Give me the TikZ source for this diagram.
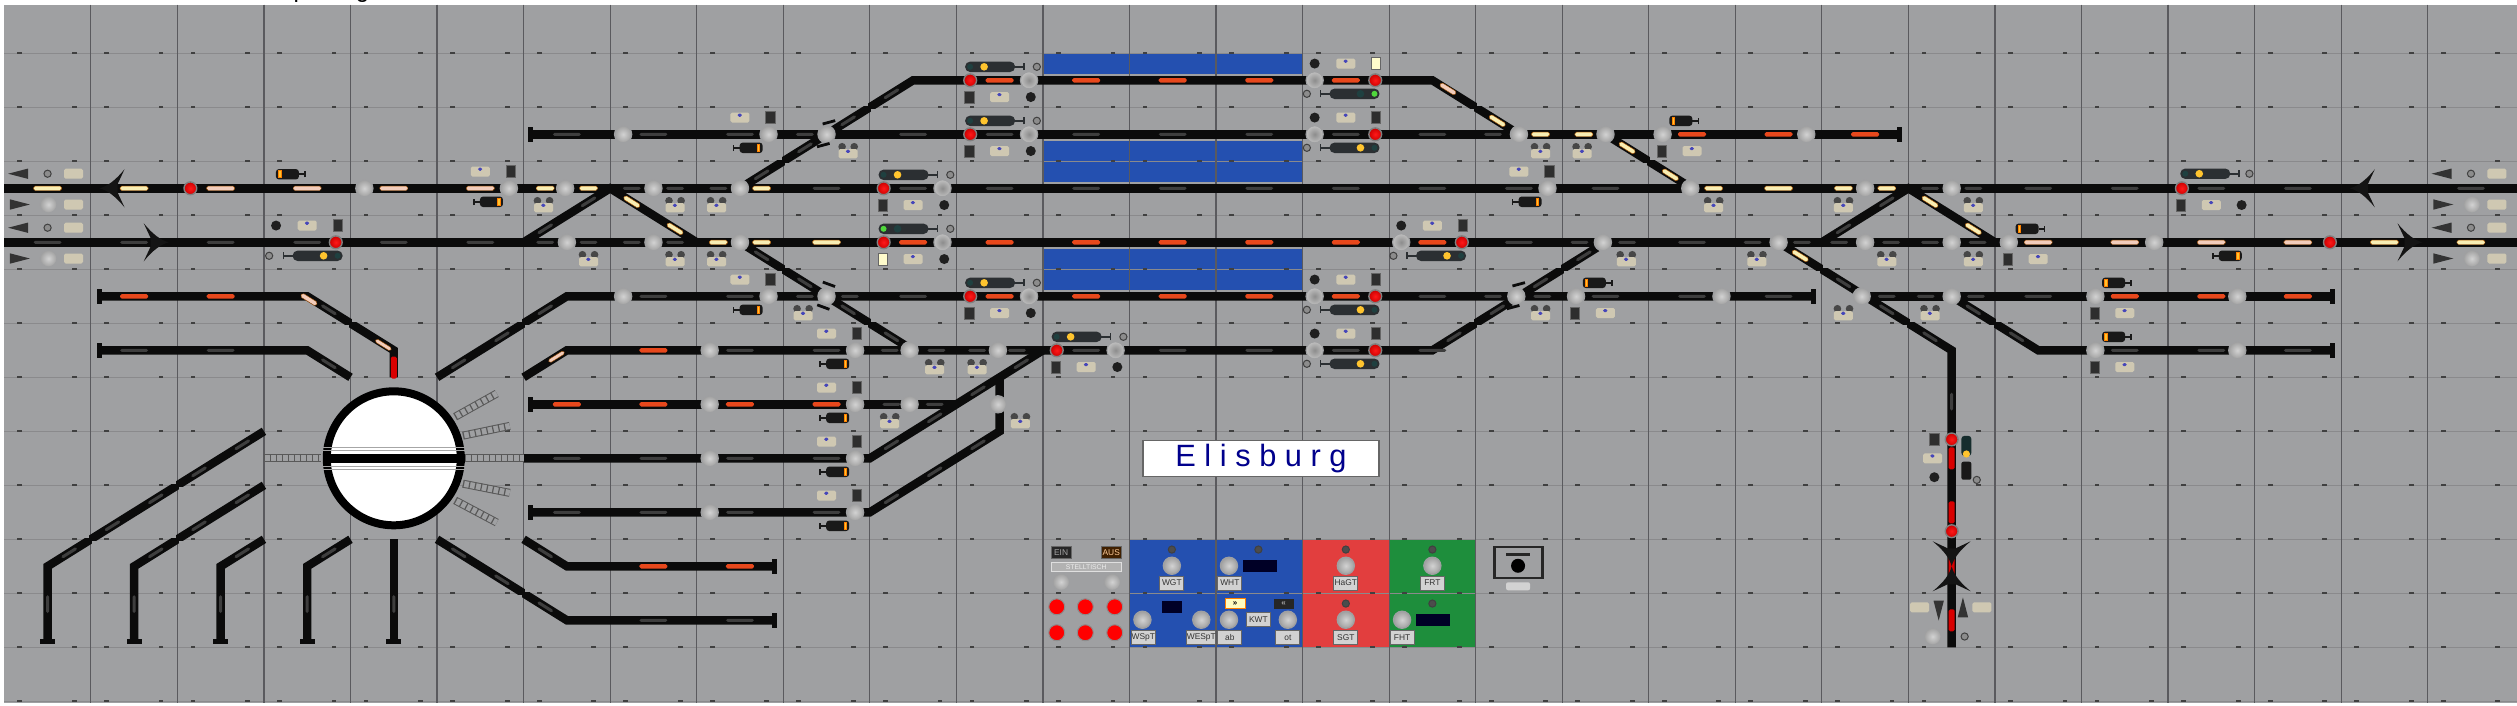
\documentclass[tikz,border=0pt]{standalone}
\usepackage{fontspec}
\setmainfont{Liberation Sans}
\usetikzlibrary{arrows,positioning}

\definecolor{tafel}{HTML}{9FA0A2}
\definecolor{fuge}{HTML}{8A8A8C}
\definecolor{spalte}{HTML}{5A5A5E}
\definecolor{gleisfarbe}{HTML}{0B0B0B}
\definecolor{blaufeld}{HTML}{2450B0}
\definecolor{rotfeld}{HTML}{E23E3E}
\definecolor{gruenfeld}{HTML}{1E8E3C}
\definecolor{rotlicht}{HTML}{E8481C}
\definecolor{gelblicht}{HTML}{F8EEB4}
\definecolor{rosalicht}{HTML}{F2CDBC}
\definecolor{graulicht}{HTML}{3E3E3E}
\definecolor{kopfbody}{HTML}{2B2F32}
\definecolor{kaus}{HTML}{1F4040}
\definecolor{kgelb}{HTML}{FFC42E}
\definecolor{kgruen}{HTML}{4FD83C}
\definecolor{schildfarbe}{HTML}{CFC8B2}

\tikzset{
  gleis/.style={draw=gleisfarbe,line width=4.2pt,line join=miter},
  lamp/.style={rectangle,rounded corners=.8pt,inner sep=0,minimum width=14pt,minimum height=2.2pt},
  kurz/.style={minimum width=9pt},
  lrot/.style={lamp,fill=rotlicht},
  lgelb/.style={lamp,fill=gelblicht,draw=orange!70!black,line width=.2pt},
  lrosa/.style={lamp,fill=rosalicht,draw=orange!60!black,line width=.2pt},
  lgrau/.style={lamp,fill=graulicht,minimum height=1.5pt},
  lvert/.style={lamp,fill=red!85!black,minimum width=3pt,minimum height=11pt},
  taste/.style={circle,inner sep=0,minimum size=8.6pt,inner color=gray!35,outer color=gray!75,draw=tafel,line width=.6pt},
  tastedunkel/.style={circle,inner sep=0,minimum size=8.6pt,inner color=gray!90,outer color=gray!50,draw=tafel,line width=.6pt},
  rotl/.style={circle,inner sep=0,minimum size=6.4pt,inner color=red!90!white,outer color=red!80!black,draw=gray,line width=.7pt},
  rotk/.style={circle,inner sep=0,minimum size=8pt,fill=red,draw=gray!90,line width=.5pt},
  ring/.style={circle,inner sep=0,minimum size=3.6pt,fill=gray!90,draw=black!75,line width=.5pt},
  punkt/.style={circle,inner sep=0,minimum size=5pt,fill=black!88},
  wpunkt/.style={circle,inner sep=0,minimum size=3.8pt,fill=black!72},
  viereck/.style={rectangle,inner sep=0,minimum width=4.6pt,minimum height=6pt,fill=black!82,draw=gray!80!black,line width=.3pt},
  viereckan/.style={viereck,fill=yellow!20},
  schild/.style={rectangle,rounded corners=.8pt,inner sep=0,minimum width=9.5pt,minimum height=5pt,fill=schildfarbe,
    path picture={\fill[blue!45!gray] (path picture bounding box.center) ++(-1.2pt,.4pt) rectangle ++(2.2pt,1.6pt);}},
  schildleer/.style={rectangle,rounded corners=.8pt,inner sep=0,minimum width=9.5pt,minimum height=5pt,fill=schildfarbe},
  prell/.style={rectangle,inner sep=0,minimum width=2.4pt,minimum height=7.6pt,fill=gleisfarbe},
  wbar/.style={rectangle,inner sep=0,minimum width=6.5pt,minimum height=1.4pt,fill=gleisfarbe},
  taf/.style={rectangle,inner sep=0,minimum width=12pt,minimum height=7pt,fill=gray!35,draw=gray!80!black,line width=.4pt,
    text=black!80,font=\fontsize{4.2}{5}\selectfont},
  fenster/.style={rectangle,inner sep=0,minimum width=17pt,minimum height=6pt,fill=black!85!blue,text=gray!60,
    font=\fontsize{3}{4}\selectfont},
  leiter/.style={draw=black!65,double=tafel,double distance=3pt,line width=.5pt},
  sprosse/.style={draw=black!65,line width=3.6pt,dash pattern=on .6pt off 2.4pt},
  brueck/.style={draw=gray!70,line width=.5pt}
}

% one row of lamps, buttons ...
\newcommand{\reihe}[4]{\foreach \x [count=\i] in {#4} \node[#1] (#2\i) at (\x,#3) {};}
\newcommand{\liste}[3]{\foreach \x/\y [count=\i] in {#3} \node[#1] (#2\i) at (\x,\y) {};}

\newcommand{\sighead}[4]{
  \begin{scope}[shift={#1},xscale=#2]
    \fill[kopfbody,rounded corners=2.5pt] (-12.5pt,-2.6pt) rectangle (12.5pt,2.6pt);
    \draw[kopfbody,line width=.8pt] (12pt,0) -- (17pt,0) (17pt,-1.8pt) -- (17pt,1.8pt);
    \fill[#3] (-10pt,0) circle (1.5pt);
    \fill[#4] (-3pt,0) circle (1.9pt);
  \end{scope}}
\newcommand{\kurzsig}[2]{
  \begin{scope}[shift={#1},xscale=#2]
    \fill[black!90,rounded corners=1.5pt] (-4.5pt,-2.6pt) rectangle (7pt,2.6pt);
    \draw[black!90,line width=.8pt] (-4.5pt,0) -- (-7.5pt,0) (-7.5pt,-1.6pt) -- (-7.5pt,1.6pt);
    \fill[orange] (4.2pt,-2.1pt) rectangle (5.9pt,2.1pt);
    \fill[kgelb] (4.7pt,-1.6pt) rectangle (5.4pt,1.6pt);
  \end{scope}}
% signal groups beside a track
\newcommand{\gruppeA}[5]{
  \node[rotl] (#3r) at (#1+.16,#2) {};
  \node[tastedunkel] (#3t) at (#1+.84,#2) {};
  \sighead{(#1+.39,#2-.25)}{1}{#4}{#5}
  \node[ring] (#3o) at (#1+.93,#2-.25) {};
  \node[viereck] (#3v) at (#1+.15,#2+.31) {};
  \node[schild] (#3s) at (#1+.5,#2+.31) {};
  \node[punkt] (#3p) at (#1+.86,#2+.31) {};}
\newcommand{\gruppeB}[5]{
  \node[tastedunkel] (#3t) at (#1+.14,#2) {};
  \node[rotl] (#3r) at (#1+.84,#2) {};
  \sighead{(#1+.6,#2+.25)}{-1}{#4}{#5}
  \node[ring] (#3o) at (#1+.05,#2+.25) {};
  \node[punkt] (#3p) at (#1+.14,#2-.31) {};
  \node[schild] (#3s) at (#1+.5,#2-.31) {};
  \node[viereck] (#3v) at (#1+.85,#2-.31) {};}
\newcommand{\gruppeC}[3]{
  \node[taste] (#3t) at (#1+.83,#2) {};
  \node[schild] (#3s) at (#1+.5,#2-.31) {};
  \node[viereck] (#3v) at (#1+.85,#2-.31) {};
  \kurzsig{(#1+.6,#2+.25)}{1}}
\newcommand{\gruppeD}[3]{
  \node[taste] (#3t) at (#1+.16,#2) {};
  \node[viereck] (#3v) at (#1+.15,#2+.31) {};
  \node[schild] (#3s) at (#1+.5,#2+.31) {};
  \kurzsig{(#1+.4,#2-.25)}{-1}}
\newcommand{\wmark}[3]{
  \node[wpunkt] (#3a) at (#1-.07,#2-.07) {};
  \node[wpunkt] (#3b) at (#1+.07,#2-.07) {};
  \node[schild,minimum height=4.6pt] (#3c) at (#1,#2+.06) {};}
\newcommand{\wbars}[3]{
  \node[taste] (#3) at #1 {};
  \path (#3) ++(1.2pt,6pt) node[wbar,rotate=#2] (#3o) {};
  \path (#3) ++(-1.6pt,-5.4pt) node[wbar,rotate=#2] (#3u) {};}
\newcommand{\pfeil}[2]{
  \fill[black!92,shift={#1},rotate=#2] (0,0) .. controls (4pt,-1pt) and (8pt,-4pt) .. (12.5pt,-9.5pt)
    -- (9pt,-2pt) -- (9pt,2pt) -- (12.5pt,9.5pt) .. controls (8pt,4pt) and (4pt,1pt) .. cycle;}
\newcommand{\dreieck}[2]{
  \fill[black!80,shift={#1},rotate=#2] (-5pt,0) -- (5pt,2.6pt) -- (5pt,-2.6pt) -- cycle;}
\newcommand{\randsym}[2]{
  \dreieck{(#1+.16,3.23)}{0}
  \node[ring] (#2a) at (#1+.5,3.23) {};
  \node[schildleer] (#2b) at (#1+.8,3.23) {};
  \dreieck{(#1+.18,3.8)}{180}
  \node[taste] (#2c) at (#1+.51,3.8) {};
  \node[schildleer] (#2d) at (#1+.8,3.8) {};
  \dreieck{(#1+.16,4.23)}{0}
  \node[ring] (#2e) at (#1+.5,4.23) {};
  \node[schildleer] (#2f) at (#1+.8,4.23) {};
  \dreieck{(#1+.18,4.8)}{180}
  \node[taste] (#2g) at (#1+.51,4.8) {};
  \node[schildleer] (#2h) at (#1+.8,4.8) {};}

\begin{document}
\begin{tikzpicture}[x=43.275pt,y=-27pt]
  \useasboundingbox (-0.0497,0.013) rectangle (29.032,13.069);
  \fill[white] (-0.0497,0.013) rectangle (29.032,13.069);
  \fill[tafel] (0,0.1) rectangle (29.032,13.03);

  % cut-off caption above the panel
  \node[anchor=base,inner sep=0,font=\fontsize{12}{14}\selectfont] (capp) at (3.42,-0.03) {p};
  \node[anchor=base,inner sep=0,font=\fontsize{12}{14}\selectfont] (capg) at (4.14,-0.03) {g};

  % platforms and key fields
  \fill[blaufeld] (12,1) rectangle (15,1.38);
  \fill[blaufeld] (12,2.62) rectangle (15,3.38);
  \fill[blaufeld] (12,4.62) rectangle (15,5.38);
  \fill[blaufeld] (13,10) rectangle (15,12);
  \fill[rotfeld] (15,10) rectangle (16,12);
  \fill[gruenfeld] (16,10) rectangle (17,12);

  % panel grid
  \foreach \r in {1,...,13}
    \draw[fuge,line width=.5pt] (0,\r) -- (29.032,\r);
  \foreach \c in {1,...,28}
    \draw[spalte,line width=.6pt] (\c,0.1) -- (\c,13.03);
  \foreach \c in {0,...,28}
    \foreach \r in {1,...,13} {
      \fill[black!75] (\c+.18,\r) ++(-1.2pt,-.5pt) rectangle ++(2.4pt,1.2pt);
      \fill[black!75] (\c+.81,\r) ++(-1.2pt,-.5pt) rectangle ++(2.4pt,1.2pt);
    }

  % track points
  \coordinate (ha) at (0,3.5);      \coordinate (hb) at (29.032,3.5);
  \coordinate (ga) at (0,4.5);      \coordinate (gb) at (29.032,4.5);
  \coordinate (k1) at (8.5,3.5);    \coordinate (k2) at (10.5,1.5);
  \coordinate (k3) at (16.5,1.5);   \coordinate (k4) at (17.5,2.5);
  \coordinate (s1) at (6.08,2.5);   \coordinate (s2) at (21.9,2.5);
  \coordinate (k5) at (18.5,2.5);   \coordinate (k6) at (19.5,3.5);
  \coordinate (d1) at (6,4.5);      \coordinate (d2) at (7,3.5);
  \coordinate (d3) at (8,4.5);      \coordinate (d4) at (21,4.5);
  \coordinate (d5) at (22,3.5);     \coordinate (d6) at (23,4.5);
  \coordinate (k7) at (8.5,4.5);    \coordinate (k8) at (10.5,6.5);
  \coordinate (r1) at (6.5,5.5);    \coordinate (r2) at (5,7);
  \coordinate (r3) at (20.9,5.5);   \coordinate (r4) at (6.5,6.5);
  \coordinate (r5) at (6,7);        \coordinate (k10) at (16.5,6.5);
  \coordinate (k11) at (17.5,5.5);  \coordinate (k12) at (18.5,4.5);
  \coordinate (k13) at (20.5,4.5);  \coordinate (k14) at (21.5,5.5);
  \coordinate (k15) at (22.5,6.5);  \coordinate (v1) at (22.5,12);
  \coordinate (r6) at (26.9,5.5);   \coordinate (k16) at (22.5,5.5);
  \coordinate (k17) at (23.5,6.5);  \coordinate (r7) at (26.9,6.5);
  \coordinate (l1) at (1.1,5.5);    \coordinate (l2) at (3.5,5.5);
  \coordinate (l3) at (4.5,6.5);    \coordinate (l4) at (4.5,7);
  \coordinate (l5) at (1.1,6.5);    \coordinate (l6) at (3.5,6.5);
  \coordinate (l7) at (4,7);
  \coordinate (e1) at (6.08,7.5);   \coordinate (e2) at (11,7.5);
  \coordinate (f1) at (12,6.5);     \coordinate (e3) at (6,8.5);
  \coordinate (e4) at (10,8.5);     \coordinate (e5) at (6.08,9.5);
  \coordinate (e6) at (10,9.5);     \coordinate (u1) at (11.5,7);
  \coordinate (u2) at (11.5,8);
  \coordinate (m1) at (6,10);       \coordinate (m2) at (6.5,10.5);
  \coordinate (m3) at (8.9,10.5);   \coordinate (m4) at (5,10);
  \coordinate (m5) at (6.5,11.5);   \coordinate (m6) at (8.9,11.5);
  \coordinate (y1) at (3,8);        \coordinate (y2) at (0.5,10.5);
  \coordinate (y3) at (0.5,11.89);  \coordinate (y4) at (3,9);
  \coordinate (y5) at (1.5,10.5);   \coordinate (y6) at (1.5,11.89);
  \coordinate (y7) at (3,10);       \coordinate (y8) at (2.5,10.5);
  \coordinate (y9) at (2.5,11.89);  \coordinate (y10) at (4,10);
  \coordinate (y11) at (3.5,10.5);  \coordinate (y12) at (3.5,11.89);
  \coordinate (y13) at (4.5,10);    \coordinate (y14) at (4.5,11.89);

  % tracks
  \draw[gleis] (ha) -- (hb);
  \draw[gleis] (ga) -- (gb);
  \draw[gleis] (k1) -- (k2) -- (k3) -- (k4);
  \draw[gleis] (s1) -- (s2);
  \draw[gleis] (k5) -- (k6);
  \draw[gleis] (d1) -- (d2) -- (d3);
  \draw[gleis] (d4) -- (d5) -- (d6);
  \draw[gleis] (k7) -- (k8);
  \draw[gleis] (r2) -- (r1) -- (r3);
  \draw[gleis] (r5) -- (r4) -- (k10) -- (k12);
  \draw[gleis] (k13) -- (k15) -- (v1);
  \draw[gleis] (k14) -- (r6);
  \draw[gleis] (k16) -- (k17) -- (r7);
  \draw[gleis] (l1) -- (l2) -- (l3) -- (l4);
  \draw[gleis] (l5) -- (l6) -- (l7);
  \draw[gleis] (e1) -- (e2);
  \draw[gleis] (e3) -- (e4) -- (f1);
  \draw[gleis] (e5) -- (e6) -- (u2) -- (u1);
  \draw[gleis] (m1) -- (m2) -- (m3);
  \draw[gleis] (m4) -- (m5) -- (m6);
  \draw[gleis] (y1) -- (y2) -- (y3);
  \draw[gleis] (y4) -- (y5) -- (y6);
  \draw[gleis] (y7) -- (y8) -- (y9);
  \draw[gleis] (y10) -- (y11) -- (y12);
  \draw[gleis] (y13) -- (y14);

  % diagonals pinch where four tiles meet
  \foreach \x/\y in {9/3,10/2,17/6,18/5,6/6,2/9,1/10,2/10} {
    \fill[tafel] (\x,\y) ++(-.7pt,.7pt) rectangle ++(-3pt,3pt);
    \fill[tafel] (\x,\y) ++(.7pt,-.7pt) rectangle ++(3pt,-3pt);
  }
  \foreach \x/\y in {9/5,10/6,19/3,17/2,21/5,22/6,23/6,4/6,6/11} {
    \fill[tafel] (\x,\y) ++(.7pt,.7pt) rectangle ++(3pt,3pt);
    \fill[tafel] (\x,\y) ++(-.7pt,-.7pt) rectangle ++(-3pt,-3pt);
  }

  % buffer stops
  \liste{prell}{bs}{6.08/2.5,21.9/2.5,20.9/5.5,26.9/5.5,26.9/6.5,1.1/5.5,1.1/6.5,6.08/7.5,6.08/9.5,8.9/10.5,8.9/11.5}
  \liste{prell,rotate=90}{bv}{0.5/11.89,1.5/11.89,2.5/11.89,3.5/11.89,4.5/11.89}

  % unlit lamps
  \reihe{lgrau}{a}{2.5}{6.5,7.5,8.5,10.5,11.5,12.5,13.5,14.5,15.5,16.5}
  \reihe{lgrau}{b}{3.5}{9.5,10.5,11.5,12.5,13.5,14.5,15.5,16.5,17.5,18.5,23.5,24.5,25.5,26.5,28.5}
  \reihe{lgrau}{c}{4.5}{0.5,1.5,2.5,3.5,4.5,5.5,17.5,19.5}
  \reihe{lgrau}{d}{5.5}{7.5,8.5,10.5,16.5,18.5,19.5,20.5,23.5}
  \reihe{lgrau}{e}{6.5}{1.5,2.5,8.5,9.5,12.5,13.5,14.5,15.5,16.5,24.5,25.5,26.5}
  \reihe{lgrau}{f}{8.5}{6.5,7.5,8.5,9.5}
  \reihe{lgrau}{g}{9.5}{6.5,7.5,8.5,9.5}
  \reihe{lgrau}{h}{11.5}{7.5,8.5}
  \reihe{lgrau,kurz}{ka}{2.5}{9.25,17.2}
  \reihe{lgrau,kurz}{kb}{3.5}{7.25,7.75,8.25,22.25,22.75}
  \reihe{lgrau,kurz}{kc}{4.5}{6.25,6.75,7.25,7.75,18.2,18.75,20.2,20.77,21.2,21.8,22.25,22.8}
  \reihe{lgrau,kurz}{kd}{5.5}{9.25,9.77,17.2,17.77,21.75,22.2,22.78}
  \reihe{lgrau,kurz}{ke}{6.5}{10.23,10.77,11.24,11.7}
  \reihe{lgrau,kurz}{kf}{7.5}{10.25,10.75}
  \liste{lgrau,kurz,rotate=32}{da}{8.75/3.25,9.25/2.75,9.75/2.25,10.25/1.75,6.25/4.25,6.75/3.75,21.25/4.25,21.75/3.75,16.75/6.25,17.25/5.75,17.75/5.25,18.25/4.75,11.75/6.75,11.25/7.25,10.75/7.75,10.25/8.25,11.25/8.25,10.75/8.75,10.25/9.25,6.25/5.75,5.75/6.25,5.25/6.75,2.75/8.25,2.25/8.75,1.75/9.25,1.25/9.75,0.75/10.25,2.75/9.25,2.25/9.75,1.75/10.25,2.75/10.25,3.75/10.25}
  \liste{lgrau,kurz,rotate=-32}{db}{8.75/4.75,9.25/5.25,9.75/5.75,10.25/6.25,21.25/5.25,21.75/5.75,22.25/6.25,22.75/5.75,23.25/6.25,3.75/6.75,5.25/10.25,5.75/10.75,6.25/11.25,6.25/10.25,3.75/5.75}
  \liste{lgrau,kurz,rotate=90}{dv}{0.5/11.2,1.5/11.2,2.5/11.2,3.5/11.2,4.5/11.2,22.5/7.45}

  % lit lamps
  \reihe{lrot}{ra}{1.5}{11.5,12.5,13.5,14.5,15.5}
  \reihe{lrot}{rb}{2.5}{19.5,20.5,21.5}
  \reihe{lrot}{rc}{4.5}{10.5,11.5,12.5,13.5,14.5,15.5,16.5}
  \reihe{lrot}{rd}{5.5}{1.5,2.5,11.5,12.5,13.5,14.5,15.5,24.5,25.5,26.5}
  \reihe{lrot}{re}{6.5}{7.5}
  \reihe{lrot}{rf}{7.5}{6.5,7.5,8.5,9.5}
  \reihe{lrot}{rg}{10.5}{7.5,8.5}
  \reihe{lgelb}{ya}{3.5}{0.5,1.5,20.5}
  \reihe{lgelb}{yb}{4.5}{9.5,27.5,28.5}
  \reihe{lgelb,kurz}{yc}{3.5}{6.25,6.75,8.75,19.75,21.25,21.75}
  \reihe{lgelb,kurz}{yd}{4.5}{8.25,8.75}
  \reihe{lgelb,kurz}{ye}{2.5}{17.75,18.25}
  \liste{lgelb,kurz,rotate=-32}{yf}{7.25/3.75,7.75/4.25,22.25/3.75,22.75/4.25,17.25/2.25,18.75/2.75,19.25/3.25,20.75/4.75}
  \reihe{lrosa}{pa}{3.5}{2.5,3.5,4.5,5.5}
  \reihe{lrosa}{pb}{4.5}{23.5,24.5,25.5,26.5}
  \liste{lrosa,kurz,rotate=-32}{pc}{3.52/5.56,16.68/1.66}
  \liste{lrosa,kurz,minimum height=1.8pt,rotate=-32}{pd}{4.38/6.4}
  \liste{lrosa,kurz,minimum height=1.8pt,rotate=32}{pe}{6.38/6.62}
  \liste{lvert}{vr}{22.5/8.5,22.5/9.5,22.5/10.5,22.5/11.5,4.5/6.82}

  % turntable
  \node[circle,draw=black,line width=4pt,fill=white,inner sep=0,minimum size=67pt] (dreh) at (4.5,8.5) {};
  \draw[draw=black,line width=4.2pt] (dreh.west) -- (dreh.east);
  \foreach \d in {4,5.4,-4,-5.4}
    \draw[brueck] ([yshift=\d pt]dreh.west) -- ([yshift=\d pt]dreh.east);
  \foreach \n/\a/\b/\c/\e in {la/3/8.5/3.66/8.5,lb/5.32/8.5/6/8.5,lc/5.21/7.73/5.69/7.3,ld/5.3/8.08/5.84/7.9,le/5.3/8.97/5.84/9.14,lf/5.21/9.28/5.69/9.69} {
    \coordinate (\n a) at (\a,\b);
    \coordinate (\n b) at (\c,\e);
    \draw[leiter] (\n a) -- (\n b);
    \draw[sprosse] (\n a) -- (\n b);
  }

  % main line arrows
  \pfeil{(1.1,3.5)}{0}
  \pfeil{(27.1,3.5)}{0}
  \pfeil{(1.9,4.5)}{180}
  \pfeil{(27.94,4.5)}{180}
  \pfeil{(22.5,10.5)}{90}
  \pfeil{(22.5,10.5)}{-90}

  % push buttons on the track
  \reihe{taste}{ta}{2.5}{7.15,17.5,18.5,20.82}
  \reihe{taste}{tb}{3.5}{4.16,6.48,7.5,8.5,19.48,21.5,22.5}
  \reihe{taste}{tc}{4.5}{6.5,7.5,8.5,18.47,20.5,21.5,22.5,24.84}
  \reihe{taste}{td}{5.5}{7.15,19.84,21.46,22.5,25.8}
  \reihe{taste}{te}{6.5}{8.15,10.46,11.48,25.8}
  \reihe{taste}{tf}{7.5}{8.15,10.46,11.48}
  \reihe{taste}{tg}{8.5}{8.15}
  \reihe{taste}{th}{9.5}{8.15}
  \wbars{(9.5,2.5)}{15}{wa}
  \wbars{(9.5,5.5)}{-20}{wb}
  \wbars{(17.47,5.5)}{15}{wc}

  % signal groups
  \gruppeA{11}{1.5}{ga}{kaus}{kgelb}
  \gruppeA{11}{2.5}{gb}{kaus}{kgelb}
  \gruppeA{11}{5.5}{gc}{kaus}{kgelb}
  \gruppeA{10}{3.5}{gd}{kaus}{kgelb}
  \gruppeA{10}{4.5}{ge}{kgruen}{kaus}
  \node[viereckan] (gev2) at (10.15,4.81) {};
  \gruppeA{12}{6.5}{gf}{kaus}{kgelb}
  \gruppeB{15}{1.5}{gg}{kgruen}{kaus}
  \node[viereckan] (ggv2) at (15.85,1.19) {};
  \gruppeB{15}{2.5}{gh}{kaus}{kgelb}
  \gruppeB{15}{5.5}{gi}{kaus}{kgelb}
  \gruppeB{15}{6.5}{gj}{kaus}{kgelb}
  \gruppeB{16}{4.5}{gk}{kaus}{kgelb}
  \gruppeC{8}{2.5}{ca}
  \gruppeC{5}{3.5}{cb}
  \gruppeC{8}{5.5}{cc}
  \gruppeC{17}{3.5}{cd}
  \gruppeC{9}{6.5}{ce}
  \gruppeC{9}{7.5}{cf}
  \gruppeC{9}{8.5}{cg}
  \gruppeC{9}{9.5}{ch}
  \gruppeD{18}{5.5}{da}
  \gruppeD{19}{2.5}{db}
  \gruppeD{23}{4.5}{dc}
  \gruppeD{24}{5.5}{dd}
  \gruppeD{24}{6.5}{de}

  % main line signals
  \node[rotl] (sa) at (2.15,3.5) {};
  \kurzsig{(3.3,3.24)}{-1}
  \node[rotl] (sb) at (3.83,4.5) {};
  \node[punkt] (sbp) at (3.14,4.19) {};
  \node[schild] (sbs) at (3.5,4.19) {};
  \node[viereck] (sbv) at (3.85,4.19) {};
  \node[ring] (sbo) at (3.06,4.75) {};
  \sighead{(3.62,4.75)}{-1}{kaus}{kgelb}
  \node[rotl] (sc) at (25.16,3.5) {};
  \sighead{(25.43,3.23)}{1}{kaus}{kgelb}
  \node[ring] (sco) at (25.94,3.23) {};
  \node[viereck] (scv) at (25.15,3.81) {};
  \node[schild] (scs) at (25.5,3.81) {};
  \node[punkt] (scp) at (25.85,3.81) {};
  \node[rotl] (sd) at (26.87,4.5) {};
  \kurzsig{(25.69,4.75)}{1}

  % point labels
  \foreach \c/\r [count=\i] in {6.23/3.8,7.75/3.8,8.23/3.8,6.75/4.8,7.75/4.8,8.23/4.8,9.23/5.8,9.75/2.8,17.75/2.8,18.23/2.8,18.74/4.8,17.75/5.8,19.75/3.8,21.25/3.8,22.75/3.8,20.25/4.8,21.75/4.8,22.75/4.8,21.25/5.8,22.25/5.8,10.75/6.8,11.24/6.8,10.23/7.8,11.74/7.8} {
    \wmark{\c}{\r}{wm\i}
  }

  % ends of the main lines
  \randsym{0}{ls}
  \randsym{28}{rs}

  % branch line signals
  \node[rotl] (ua) at (22.5,8.15) {};
  \node[rotl] (ub) at (22.5,9.85) {};
  \node[viereck] (uav) at (22.3,8.15) {};
  \node[schild] (uas) at (22.28,8.5) {};
  \node[punkt] (uap) at (22.3,8.85) {};
  \node[rectangle,rounded corners=1.5pt,fill=kaus!70!black,inner sep=0,minimum width=5pt,minimum height=10pt] (uak) at (22.67,8.27) {};
  \node[circle,inner sep=0,minimum size=3.6pt,fill=kgelb] (uag) at (22.67,8.42) {};
  \node[rectangle,rounded corners=1pt,fill=black!90,inner sep=0,minimum width=5pt,minimum height=9pt] (uaf) at (22.67,8.73) {};
  \node[ring] (uao) at (22.79,8.9) {};
  \dreieck{(22.35,11.32)}{90}
  \dreieck{(22.63,11.26)}{-90}
  \node[schildleer] (uc) at (22.13,11.26) {};
  \node[schildleer] (ud) at (22.85,11.26) {};
  \node[taste] (ue) at (22.28,11.8) {};
  \node[ring] (uf) at (22.65,11.8) {};

  % station name
  \node[rectangle,draw=gray!80!black,line width=.6pt,fill=white,inner sep=0,minimum width=118pt,minimum height=18pt,
        text=blue!55!black,font=\fontsize{15.4}{18}\selectfont] (name) at (14.52,8.51) {E l i s b u r g};

  % switch field
  \node[taf,fill=black!85,text=gray!70,minimum width=10pt,minimum height=6.2pt] (ein) at (12.21,10.24) {EIN};
  \node[taf,fill=black!75!orange,text=orange!40,minimum width=10pt,minimum height=6.2pt] (aus) at (12.79,10.24) {AUS};
  \node[taf,fill=gray!60,draw=gray!25,text=gray!15,minimum width=35pt,minimum height=4.5pt,font=\fontsize{3.4}{4}\selectfont] (stell) at (12.5,10.52) {STELLTISCH};
  \liste{taste}{tu}{12.21/10.79,12.8/10.79,13.49/10.49,14.15/10.49,15.5/10.49,16.5/10.49,13.15/11.49,13.83/11.49,14.15/11.49,14.83/11.49,15.5/11.49,16.15/11.49}
  \liste{rotk}{ro}{12.16/11.25,12.49/11.25,12.83/11.25,12.16/11.73,12.49/11.73,12.83/11.73}
  \liste{ring,fill=black!70}{ri}{13.49/10.19,14.49/10.19,15.5/10.19,16.5/10.19,15.5/11.19,16.5/11.19}
  \node[fenster] (fa) at (14.51,10.49) {};
  \node[fenster,minimum width=10pt] (fb) at (13.49,11.25) {};
  \node[fenster] (fc) at (16.51,11.49) {};
  \node[rectangle,inner sep=0,minimum width=10pt,minimum height=5pt,fill=yellow!25,draw=orange,line width=.4pt,font=\fontsize{4}{5}\selectfont\bfseries] (pfa) at (14.22,11.19) {>>};
  \node[rectangle,inner sep=0,minimum width=10pt,minimum height=5pt,fill=black!85,text=gray!70,font=\fontsize{4}{5}\selectfont\bfseries] (pfb) at (14.78,11.19) {<<};
  \node[taf] (wgt) at (13.49,10.81) {WGT};
  \node[taf] (wht) at (14.16,10.81) {WHT};
  \node[taf] (hagt) at (15.5,10.81) {HaGT};
  \node[taf] (frt) at (16.5,10.81) {FRT};
  \node[taf] (wspt) at (13.16,11.82) {WSpT};
  \node[taf] (wespt) at (13.83,11.82) {WESpT};
  \node[taf] (ab) at (14.16,11.82) {ab};
  \node[taf] (kwt) at (14.49,11.49) {KWT};
  \node[taf] (ot) at (14.83,11.82) {ot};
  \node[taf] (sgt) at (15.5,11.82) {SGT};
  \node[taf] (fht) at (16.15,11.82) {FHT};

  % counter
  \node[rectangle,draw=black!85,line width=1.2pt,inner sep=0,minimum width=24pt,minimum height=15.5pt] (zaehl) at (17.495,10.435) {};
  \node[rectangle,fill=black!85,inner sep=0,minimum width=12pt,minimum height=1.4pt] (zbar) at (17.49,10.28) {};
  \node[circle,fill=black,inner sep=0,minimum size=7pt] (zkn) at (17.49,10.49) {};
  \node[rectangle,rounded corners=1pt,fill=gray!35,inner sep=0,minimum width=12pt,minimum height=4pt] (zsch) at (17.49,10.87) {};
\end{tikzpicture}
\end{document}
